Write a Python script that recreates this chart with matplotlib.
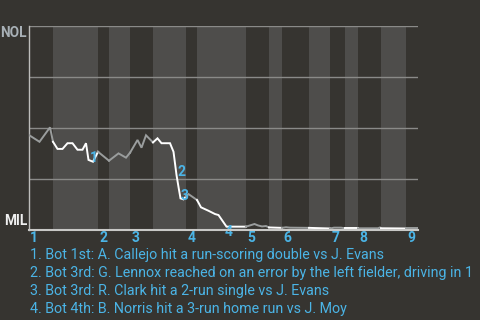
import matplotlib
matplotlib.use("Agg")
import matplotlib.pyplot as plt

# win probability for NOL (1 = NOL wins, 0 = MIL wins), by game progress
progress = [0, 2.1, 4.2, 4.8,
            5.7, 6.7, 7.7, 8.7, 9.7, 10.7, 11.4, 11.9, 12.8, 13.8,
            14.6, 16.0,
            17.9, 19.4, 20.2,
            21.7, 22.5, 23.4, 24.8,
            25.7, 26.5, 28.2, 28.9, 29.5, 29.9, 30.3, 30.9, 31.4,
            31.9, 33.6,
            34.4, 35.9, 37.2, 37.9, 39.5, 43.4,
            45.1, 45.8, 46.6, 47.4, 48.0,
            50.6,
            51.4, 52.2, 56.0,
            60.2,
            61.0, 62.4, 63.2,
            65.8,
            69.8, 70.2, 70.4,
            75.4,
            77.8]
win_prob = [0.464, 0.431, 0.502, 0.431,
            0.396, 0.396, 0.424, 0.424, 0.392, 0.392, 0.424, 0.342, 0.333, 0.382,
            0.366, 0.338,
            0.374, 0.353, 0.377,
            0.440, 0.402, 0.463, 0.428,
            0.448, 0.424, 0.424, 0.382, 0.268, 0.209, 0.153, 0.148, 0.162,
            0.174, 0.145,
            0.109, 0.092, 0.076, 0.071, 0.014, 0.014,
            0.027, 0.020, 0.015, 0.017, 0.010,
            0.008,
            0.011, 0.009, 0.008,
            0.005,
            0.009, 0.009, 0.006,
            0.006,
            0.006, 0.010, 0.006,
            0.005,
            0.005]

# half-inning boundaries (top 1, bot 1, top 2, ...)
half_starts = [0, 4.8, 13.8, 16.0, 20.2, 24.8, 31.4, 33.6, 43.4, 48.0,
               50.6, 56.0, 60.2, 63.2, 65.8, 70.4, 75.4]
game_end = 77.8
line_colors = ['grey', 'white', 'grey', 'grey', 'grey', 'white', 'grey', 'white',
               'grey', 'white', 'grey', 'white', 'grey', 'white', 'grey', 'white', 'grey']
innings = ['1', '2', '3', '4', '5', '6', '7', '8', '9']

events = ['1', '2', '3', '4']
event_x = [12.9, 30.4, 31.2, 40.0]
event_y = [0.351, 0.283, 0.165, -0.014]
event_text = [
    "1. Bot 1st: A. Callejo hit a run-scoring double vs J. Evans",
    "2. Bot 3rd: G. Lennox reached on an error by the left fielder, driving in 1",
    "3. Bot 3rd: R. Clark hit a 2-run single vs J. Evans",
    "4. Bot 4th: B. Norris hit a 3-run home run vs J. Moy",
]

bg = '#363430'
band = '#4e4d4b'
blue = '#4bb4e6'
colmap = {'grey': '#9a9d9d', 'white': '#ffffff'}

fig = plt.figure(figsize=(4.8, 3.2), dpi=100, facecolor=bg)
ax = fig.add_axes([29/480, 1 - 229.5/320, 389/480, 203.5/320])
ax.set_facecolor(bg)

ends = half_starts[1:] + [game_end]
for i, (s, e) in enumerate(zip(half_starts, ends)):
    if i % 2 == 1:
        ax.axvspan(s, e, color=band, lw=0, zorder=0)

for y in [0.25, 0.5, 0.75, 1.0]:
    ax.axhline(y, color='#8a8a88', lw=1, zorder=1)

# line, split by half inning
for i, (s, e) in enumerate(zip(half_starts, ends)):
    xs = [x for x in progress if s <= x <= e]
    ys = [win_prob[progress.index(x)] for x in xs]
    ax.plot(xs, ys, color=colmap[line_colors[i]], lw=1.4, zorder=3,
            solid_joinstyle='miter')

for t, x, y in zip(events, event_x, event_y):
    ax.text(x, y, t, color=blue, fontsize=10, fontweight='bold', family='Roboto',
            ha='center', va='center', zorder=4, clip_on=False)

ax.set_xlim(0, game_end)
ax.set_ylim(0, 1)
for sp in ['top', 'right']:
    ax.spines[sp].set_visible(False)
ax.spines['left'].set_color('#bdbdbb')
ax.spines['left'].set_linewidth(1)
ax.spines['bottom'].set_color('#c8c8c6')
ax.spines['bottom'].set_linewidth(1.5)
ax.spines['bottom'].set_zorder(5)
ax.set_xticks([])
ax.set_yticks([])

# inning labels
for k, lab in enumerate(innings):
    ax.text(half_starts[2 * k] + 0.25, -0.04, lab, color=blue, fontsize=10,
            fontweight='bold', family='Roboto', ha='left', va='center')

fig.text(27/480, 1 - 33/320, 'NOL', color='#a8b0b6', fontsize=9.8,
         fontweight='bold', family='Roboto', ha='right', va='center')
fig.text(27/480, 1 - 221/320, 'MIL', color='#f0f0f0', fontsize=9.8,
         fontweight='bold', family='Roboto', ha='right', va='center')

for i, line in enumerate(event_text):
    fig.text(30/480, 1 - (258.5 + 18.3 * i)/320, line, color=blue, fontsize=10.3,
             family='Roboto', ha='left', va='baseline')

fig.savefig('out.png', dpi=100, facecolor=bg)
